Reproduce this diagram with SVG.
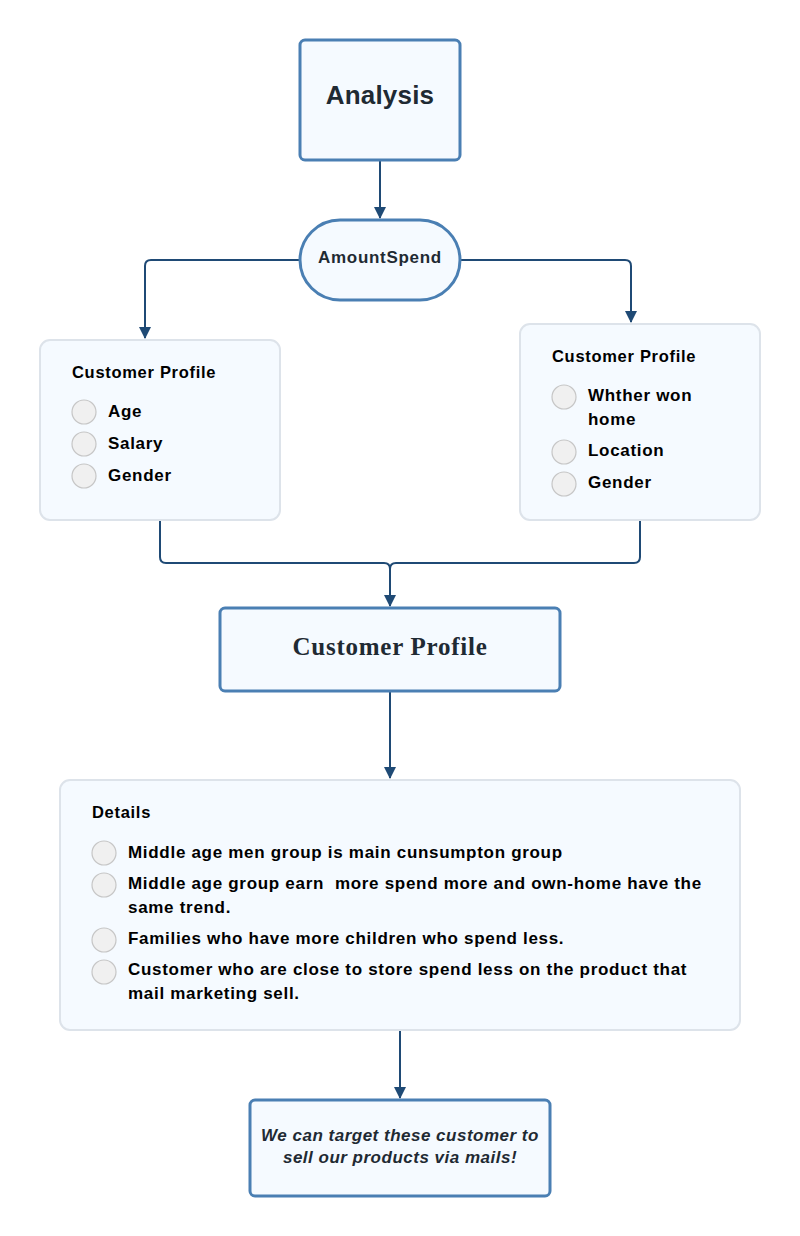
<svg xmlns="http://www.w3.org/2000/svg" width="800" height="1236" viewBox="0 0 800 1236">
<style>
.main{fill:#f5faff;stroke:#4a7fb3;stroke-width:3}
.card{fill:#f5faff;stroke:#dde3ea;stroke-width:2}
.dot{fill:#f0f0f0;stroke:#c6c6c6;stroke-width:1.2}
.t{font-family:"Liberation Sans",Arial,sans-serif;font-weight:bold;fill:#000;letter-spacing:0.7px}
.h{font-family:"Liberation Sans",Arial,sans-serif;font-weight:bold;fill:#1f2a33}
.conn{fill:none;stroke:#1f4a75;stroke-width:2}
</style>
<defs>
<marker id="arr" viewBox="0 0 12 12" refX="11" refY="6" markerWidth="12" markerHeight="12" markerUnits="userSpaceOnUse" orient="auto">
<path d="M0,0 L12,6 L0,12 Z" fill="#1f4a75"/>
</marker>
</defs>
<g id="connectors">
<path class="conn" d="M380,160 V218" marker-end="url(#arr)"/>
<path class="conn" d="M300,260 H151 Q145,260 145,266 V338" marker-end="url(#arr)"/>
<path class="conn" d="M460,260 H625 Q631,260 631,266 V322" marker-end="url(#arr)"/>
<path class="conn" d="M160,520 V557 Q160,563 166,563 H384 Q390,563 390,569 V606" marker-end="url(#arr)"/>
<path class="conn" d="M640,520 V557 Q640,563 634,563 H396 Q390,563 390,569"/>
<path class="conn" d="M390,691 V778" marker-end="url(#arr)"/>
<path class="conn" d="M400,1030 V1098" marker-end="url(#arr)"/>
</g>
<g id="analysis">
<rect class="main" x="300" y="40" width="160" height="120" rx="5"/>
<text class="h" x="380" y="104" font-size="26" text-anchor="middle" letter-spacing="0.2">Analysis</text>
</g>
<g id="amountspend">
<rect class="main" x="300" y="220" width="160" height="80" rx="40"/>
<text class="h" x="380" y="263" font-size="17" text-anchor="middle" letter-spacing="0.7">AmountSpend</text>
</g>
<g id="profile-left">
<rect class="card" x="40" y="340" width="240" height="180" rx="10"/>
<text class="t" x="72" y="378" font-size="16.5">Customer Profile</text>
<circle class="dot" cx="84" cy="412" r="12"/>
<circle class="dot" cx="84" cy="444" r="12"/>
<circle class="dot" cx="84" cy="476" r="12"/>
<text class="t" x="108" y="417" font-size="17">Age</text>
<text class="t" x="108" y="449" font-size="17">Salary</text>
<text class="t" x="108" y="481" font-size="17">Gender</text>
</g>
<g id="profile-right">
<rect class="card" x="520" y="324" width="240" height="196" rx="10"/>
<text class="t" x="552" y="362" font-size="16.5">Customer Profile</text>
<circle class="dot" cx="564" cy="397" r="12"/>
<circle class="dot" cx="564" cy="452" r="12"/>
<circle class="dot" cx="564" cy="484" r="12"/>
<text class="t" x="588" y="401" font-size="17">Whther won</text>
<text class="t" x="588" y="425" font-size="17">home</text>
<text class="t" x="588" y="456" font-size="17">Location</text>
<text class="t" x="588" y="488" font-size="17">Gender</text>
</g>
<g id="customer-profile">
<rect class="main" x="220" y="608" width="340" height="83" rx="5"/>
<text x="390" y="655" font-size="25" font-weight="bold" text-anchor="middle" letter-spacing="0.75" font-family="'Liberation Serif','Times New Roman',serif" fill="#1f2a33">Customer Profile</text>
</g>
<g id="details">
<rect class="card" x="60" y="780" width="680" height="250" rx="10"/>
<text class="t" x="92" y="818" font-size="16.5">Details</text>
<circle class="dot" cx="104" cy="853" r="12"/>
<circle class="dot" cx="104" cy="885" r="12"/>
<circle class="dot" cx="104" cy="940" r="12"/>
<circle class="dot" cx="104" cy="972" r="12"/>
<text class="t" x="128" y="858" font-size="17">Middle age men group is main cunsumpton group</text>
<text class="t" x="128" y="889" font-size="17" xml:space="preserve">Middle age group earn  more spend more and own-home have the</text>
<text class="t" x="128" y="913" font-size="17">same trend.</text>
<text class="t" x="128" y="944" font-size="17">Families who have more children who spend less.</text>
<text class="t" x="128" y="975" font-size="17">Customer who are close to store spend less on the product that</text>
<text class="t" x="128" y="999" font-size="17">mail marketing sell.</text>
</g>
<g id="conclusion">
<rect class="main" x="250" y="1100" width="300" height="96" rx="5"/>
<text class="h" x="400" y="1141" font-size="17" font-style="italic" text-anchor="middle" letter-spacing="0.5">We can target these customer to</text>
<text class="h" x="400" y="1163" font-size="17" font-style="italic" text-anchor="middle" letter-spacing="0.5">sell our products via mails!</text>
</g>
</svg>
